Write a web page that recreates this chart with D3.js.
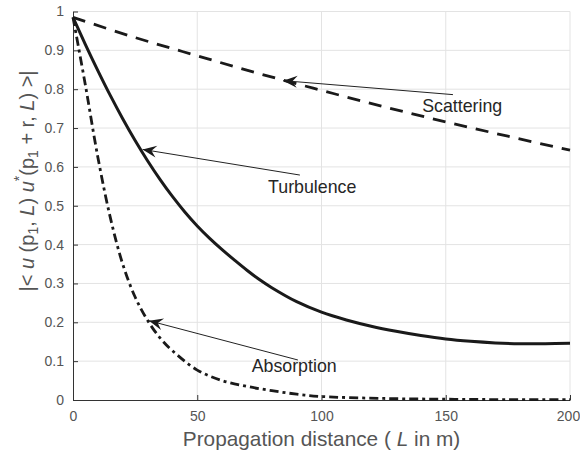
<html>
  <head>
    <style>
      body { margin: 0; background: #fff; }
      text { font-family: "Liberation Sans", Arial, Helvetica, sans-serif; }
    </style>
  </head>
  <body>
    <script src="https://d3js.org/d3.v7.min.js"></script>
    <script>
    // data (L in m, correlation magnitude)
    var xTicks = [0, 50, 100, 150, 200];
    var yTicks = [0, 0.1, 0.2, 0.3, 0.4, 0.5, 0.6, 0.7, 0.8, 0.9, 1];

    var scatterL = [0, 25, 50, 75, 100, 125, 150, 175, 200];
    var scatterV = [0.985, 0.933, 0.886, 0.840, 0.797, 0.755, 0.716, 0.679, 0.643];

    var turbL = [0, 5, 10, 15, 20, 25, 30, 35, 40, 45, 50, 55, 60, 65, 70, 75, 80, 90, 100, 110, 120, 130, 140, 150, 160, 170, 180, 190, 200];
    var turbV = [0.985, 0.915, 0.848, 0.784, 0.724, 0.668, 0.616, 0.568, 0.524, 0.484, 0.448, 0.416, 0.387, 0.36, 0.334, 0.31, 0.289, 0.253, 0.226, 0.206, 0.19, 0.177, 0.166, 0.157, 0.151, 0.147, 0.145, 0.145, 0.146];

    var absL = [0, 5, 10, 15, 20, 25, 30, 35, 40, 50, 60, 70, 80, 90, 100, 125, 150, 175, 200];
    var absV = [0.985, 0.81, 0.625, 0.47, 0.35, 0.265, 0.205, 0.16, 0.127, 0.077, 0.05, 0.035, 0.024, 0.015, 0.009, 0.004, 0.002, 0.001, 0.001];

    // annotations: label, arrow tip, arrow tail, text anchor (data units)
    var notes = [
      { text: "Scattering", tip: [84.6, 0.822], tail: [152.9, 0.786], at: [140.5, 0.742] },
      { text: "Turbulence", tip: [28.0, 0.645], tail: [91.3, 0.579], at: [78.5, 0.533] },
      { text: "Absorption", tip: [30.6, 0.204], tail: [90.5, 0.103], at: [71.9, 0.071] }
    ];

    var width = 580, height = 455;
    var margin = { left: 73, right: 10, top: 11.5, bottom: 55 };

    var svg = d3.select("body")
        .append("svg")
        .attr("width", width)
        .attr("height", height);

    var x = d3.scaleLinear().domain([0, 200]).range([margin.left, width - margin.right]);
    var y = d3.scaleLinear().domain([0, 1]).range([height - margin.bottom, margin.top]);

    // grid
    svg.append("g").selectAll("line")
        .data(xTicks.slice(1))
        .enter().append("line")
          .attr("x1", function(d){ return x(d); })
          .attr("x2", function(d){ return x(d); })
          .attr("y1", y(0)).attr("y2", y(1))
          .attr("stroke", "#e3e3e3");

    svg.append("g").selectAll("line")
        .data(yTicks.slice(1))
        .enter().append("line")
          .attr("y1", function(d){ return y(d); })
          .attr("y2", function(d){ return y(d); })
          .attr("x1", x(0)).attr("x2", x(200))
          .attr("stroke", "#e3e3e3");

    // axes with inward ticks
    var xAxis = svg.append("g")
        .attr("transform", "translate(0," + y(0) + ")")
        .call(d3.axisBottom(x).tickValues(xTicks).tickSizeInner(-5).tickSizeOuter(0).tickPadding(11));

    var yAxis = svg.append("g")
        .attr("transform", "translate(" + x(0) + ",0)")
        .call(d3.axisLeft(y).tickValues(yTicks).tickFormat(d3.format("~g")).tickSizeInner(-5).tickSizeOuter(0).tickPadding(9));

    [xAxis, yAxis].forEach(function(ax){
      ax.select(".domain").attr("stroke", "#333");
      ax.selectAll(".tick line").attr("stroke", "#333");
      ax.selectAll(".tick text")
        .attr("fill", "#555")
        .style("font-size", "14px")
        .style("font-family", "'Liberation Sans', Arial, sans-serif");
    });
    // last x label sits right against the edge
    xAxis.selectAll(".tick text").filter(function(d){ return d == 200; }).attr("dx", "-2");

    // curves
    var line = d3.line()
        .x(function(d){ return x(d[0]); })
        .y(function(d){ return y(d[1]); })
        .curve(d3.curveCatmullRom);

    svg.append("path")
        .datum(d3.zip(scatterL, scatterV))
        .attr("d", line)
        .attr("fill", "none")
        .attr("stroke", "#1a1a1a")
        .attr("stroke-width", 2.8)
        .attr("stroke-dasharray", "13,9");

    svg.append("path")
        .datum(d3.zip(turbL, turbV))
        .attr("d", line)
        .attr("fill", "none")
        .attr("stroke", "#1a1a1a")
        .attr("stroke-width", 3);

    svg.append("path")
        .datum(d3.zip(absL, absV))
        .attr("d", line)
        .attr("fill", "none")
        .attr("stroke", "#1a1a1a")
        .attr("stroke-width", 2.8)
        .attr("stroke-dasharray", "9,4,3,4");

    // arrows and their labels
    var note = svg.append("g").selectAll("g")
        .data(notes)
        .enter().append("g");

    note.append("line")
        .attr("x1", function(d){ return x(d.tail[0]); })
        .attr("y1", function(d){ return y(d.tail[1]); })
        .attr("x2", function(d){ return x(d.tip[0]); })
        .attr("y2", function(d){ return y(d.tip[1]); })
        .attr("stroke", "#222")
        .attr("stroke-width", 1);

    note.append("path")
        .attr("d", "M0,0 L-14,-6 L-9,0 L-14,6 Z")
        .attr("fill", "#1a1a1a")
        .attr("transform", function(d){
          var tx = x(d.tip[0]), ty = y(d.tip[1]);
          var a = Math.atan2(ty - y(d.tail[1]), tx - x(d.tail[0])) * 180 / Math.PI;
          return "translate(" + tx + "," + ty + ") rotate(" + a + ")";
        });

    note.append("text")
        .attr("x", function(d){ return x(d.at[0]); })
        .attr("y", function(d){ return y(d.at[1]); })
        .attr("fill", "#262626")
        .style("font-size", "17.8px")
        .text(function(d){ return d.text; });

    // x label
    var xl = svg.append("text")
        .attr("x", (x(0) + x(200)) / 2)
        .attr("y", 446)
        .attr("text-anchor", "middle")
        .attr("fill", "#555")
        .style("font-size", "20.8px");
    xl.append("tspan").text("Propagation distance ( ");
    xl.append("tspan").style("font-style", "italic").text("L");
    xl.append("tspan").text(" in m)");

    // y label with sub/superscripts
    var yl = svg.append("text")
        .attr("transform", "translate(34,181) rotate(-90)")
        .attr("text-anchor", "middle")
        .attr("fill", "#555")
        .style("font-size", "20px");
    var parts = [
      ["|< ", ""], ["u", "i"], [" (p", ""], ["1", "sub"], [", ", ""], ["L", "i"], [") ", ""],
      ["u", "i"], ["*", "sup"], ["(p", ""], ["1", "sub"], [" + r, ", ""], ["L", "i"], [") >|", ""]
    ];
    parts.forEach(function(p){
      var t = yl.append("tspan").text(p[0]);
      if (p[1] == "i") t.style("font-style", "italic");
      if (p[1] == "sub") t.attr("baseline-shift", "-25%").style("font-size", "14px");
      if (p[1] == "sup") t.attr("baseline-shift", "70%").style("font-size", "14px");
    });
    </script>
  </body>
</html>
